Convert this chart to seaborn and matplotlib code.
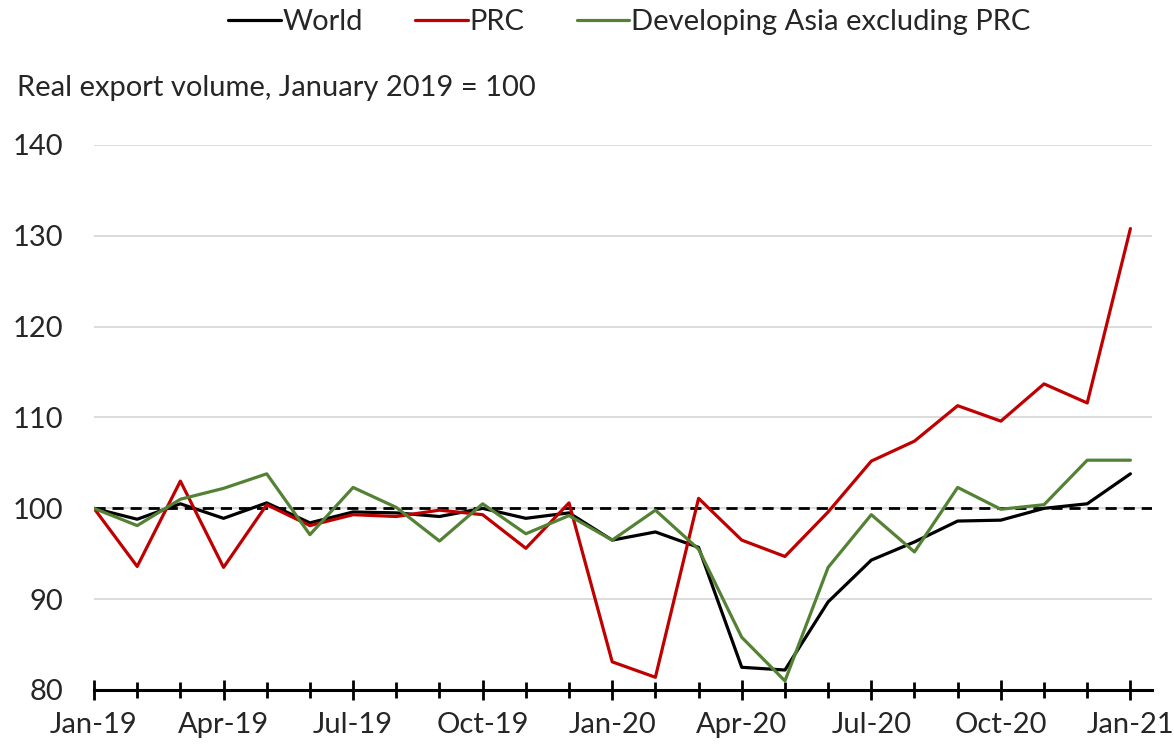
import pandas as pd
import numpy as np
import matplotlib.pyplot as plt
import seaborn as sns

# -------------------------
# Data
# -------------------------
months = pd.date_range("2019-01-01", periods=25, freq="MS").strftime("%b-%y").tolist()

world = [100.0, 98.8, 100.5, 98.9, 100.6, 98.4, 99.6, 99.5, 99.1, 100.0, 98.9, 99.5,
         96.5, 97.4, 95.7, 82.5, 82.2, 89.7, 94.3, 96.3, 98.6, 98.7, 100.0, 100.5, 103.8]
prc = [100.0, 93.6, 103.0, 93.5, 100.4, 98.1, 99.3, 99.1, 99.8, 99.3, 95.6, 100.6,
       83.1, 81.4, 101.1, 96.5, 94.7, 99.6, 105.2, 107.4, 111.3, 109.6, 113.7, 111.6, 130.8]
dev_asia = [100.0, 98.1, 101.0, 102.2, 103.8, 97.1, 102.3, 100.1, 96.4, 100.5, 97.2, 99.2,
            96.5, 99.8, 95.5, 85.8, 81.0, 93.5, 99.3, 95.2, 102.3, 99.9, 100.4, 105.3, 105.3]

series_names = ["World", "PRC", "Developing Asia excluding PRC"]
colors = ["#000000", "#C00000", "#548235"]

df = pd.DataFrame({"month": months, "World": world, "PRC": prc,
                   "Developing Asia excluding PRC": dev_asia})
df["idx"] = np.arange(len(months))
long_df = df.melt(id_vars=["month", "idx"], value_vars=series_names,
                  var_name="series", value_name="value")

# -------------------------
# Plot
# -------------------------
sns.set_style("white")
plt.rcParams["font.family"] = ["Lato", "DejaVu Sans"]

fig = plt.figure(figsize=(11.74, 7.47), dpi=100)
ax = fig.add_axes([94 / 1174, 57 / 747, (1152 - 94) / 1174, (690 - 145) / 747])

ax.yaxis.grid(True, color="#D9D9D9", linewidth=1.3)
ax.set_axisbelow(True)

ax.axhline(100, color="black", linestyle=(0, (4, 2.5)), linewidth=2.0, zorder=2)

sns.lineplot(data=long_df, x="idx", y="value", hue="series", hue_order=series_names,
             palette=colors, linewidth=2.3, ax=ax, legend=False, zorder=3)

ax.set_xlim(0, 24.5)
ax.set_ylim(80, 140)
ax.set_yticks(range(80, 141, 10))
ax.tick_params(axis="y", left=False, length=0, pad=22, labelsize=21)

ax.set_xticks(df["idx"][::3])
ax.set_xticklabels(months[::3])
ax.set_xticks(df["idx"], minor=True)
ax.tick_params(axis="x", which="both", bottom=True, color="black")
ax.tick_params(axis="x", which="major", direction="inout", length=15, width=2,
               labelsize=21, pad=8)
ax.tick_params(axis="x", which="minor", direction="inout", length=12, width=2)

for side in ["top", "right", "left"]:
    ax.spines[side].set_visible(False)
ax.spines["bottom"].set_linewidth(2.2)
ax.spines["bottom"].set_color("black")
ax.set_xlabel("")
ax.set_ylabel("")

fig.text(17 / 1174, 1 - 88 / 747, "Real export volume, January 2019 = 100",
         fontsize=21, va="center", ha="left")

handles = [plt.Line2D([], [], color=c, linewidth=2.3) for c in colors]
fig.legend(handles, series_names, loc="center", bbox_to_anchor=(0.536, 1 - 22 / 747),
           ncol=3, frameon=False, fontsize=21, handlelength=1.8, handletextpad=0.05,
           columnspacing=1.8)

plt.savefig("out.png", dpi=100)
